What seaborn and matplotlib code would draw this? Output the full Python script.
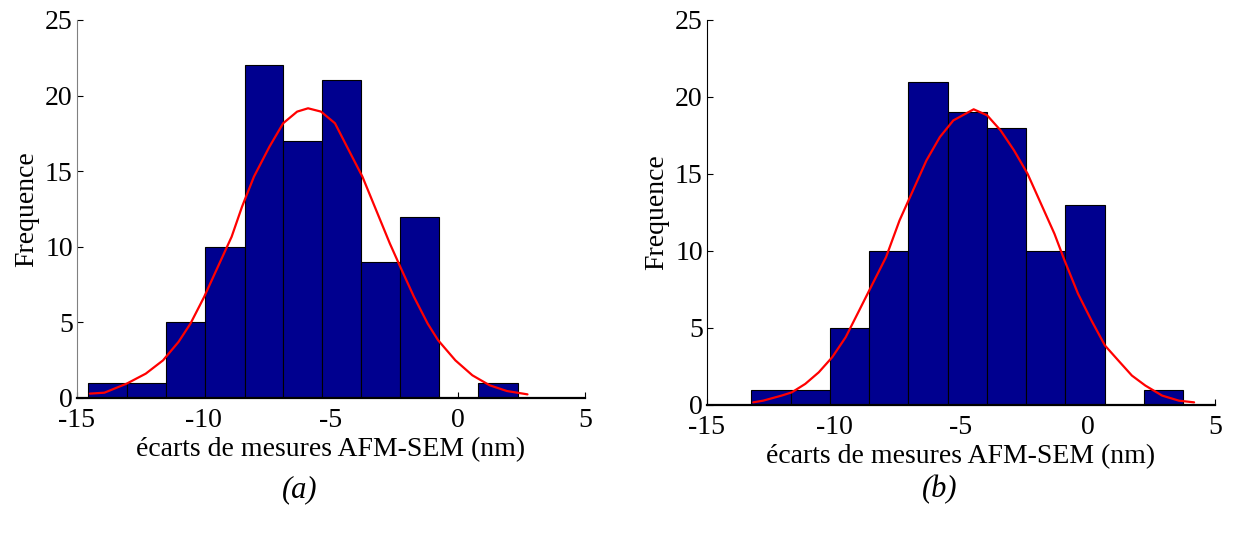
import numpy as np
import seaborn as sns
import matplotlib.pyplot as plt

# bin edges (nm) and counts
edges_a = [-14.57, -13.03, -11.48, -9.94, -8.40, -6.88, -5.35, -3.80, -2.27, -0.73, 0.81, 2.37]
counts_a = [1, 1, 5, 10, 22, 17, 21, 9, 12, 0, 1]

edges_b = [-13.28, -11.71, -10.17, -8.63, -7.08, -5.53, -3.98, -2.42, -0.89, 0.66, 2.19, 3.74]
counts_b = [1, 1, 5, 10, 21, 19, 18, 10, 13, 0, 1]

# red fitted curves
curve_a_x = [-14.49, -13.92, -13.04, -12.29, -11.61, -11.0, -10.53, -9.99, -9.45, -8.91,
             -8.50, -8.03, -7.42, -6.88, -6.33, -5.90, -5.39, -4.84, -4.30, -3.76,
             -3.22, -2.68, -2.27, -1.73, -1.19, -0.78, -0.10, 0.57, 1.25, 1.93, 2.74]
curve_a_y = [0.29, 0.35, 0.95, 1.61, 2.49, 3.71, 4.92, 6.69, 8.68, 10.66,
             12.65, 14.64, 16.62, 18.17, 18.94, 19.16, 18.94, 18.17, 16.40, 14.64,
             12.43, 10.22, 8.68, 6.69, 4.92, 3.82, 2.49, 1.50, 0.84, 0.46, 0.24]

curve_b_x = [-13.18, -12.79, -12.06, -11.66, -11.13, -10.60, -10.07, -9.54, -9.01, -8.48,
             -7.95, -7.42, -6.89, -6.36, -5.83, -5.30, -4.50, -3.97, -3.44, -2.91,
             -2.38, -1.85, -1.32, -0.92, -0.39, 0.14, 0.67, 1.20, 1.73, 2.26, 2.92, 3.58, 4.18]
curve_b_y = [0.17, 0.28, 0.61, 0.82, 1.37, 2.12, 3.10, 4.40, 6.13, 7.87,
             9.60, 11.98, 13.93, 15.88, 17.40, 18.48, 19.20, 18.81, 17.83, 16.53,
             15.02, 13.07, 11.12, 9.38, 7.22, 5.48, 3.86, 2.88, 1.91, 1.26, 0.61, 0.28, 0.17]

xticks = [-15, -10, -5, 0, 5]
yticks = [0, 5, 10, 15, 20, 25]
xlabel = "écarts de mesures AFM-SEM (nm)"
ylabel = "Frequence"
captions = ["(a)", "(b)"]

sns.set_style("ticks")
plt.rcParams['font.family'] = ['Liberation Serif', 'DejaVu Serif']
plt.rcParams['text.color'] = 'black'
plt.rcParams['axes.labelcolor'] = 'black'
plt.rcParams['xtick.color'] = 'black'
plt.rcParams['ytick.color'] = 'black'

fig = plt.figure(figsize=(12.41, 5.33), dpi=100)
ax_a = fig.add_axes([0.0620, 0.2533, 0.4093, 0.7092])
ax_b = fig.add_axes([0.5697, 0.2402, 0.4093, 0.7223])

panels = [
    (ax_a, edges_a, counts_a, curve_a_x, curve_a_y, '#808080'),
    (ax_b, edges_b, counts_b, curve_b_x, curve_b_y, 'black'),
]

for ax, edges, counts, cx, cy, left_col in panels:
    centers = (np.array(edges[:-1]) + np.array(edges[1:])) / 2
    sns.histplot(x=centers, weights=counts, bins=edges, ax=ax,
                 color='#00008F', edgecolor='black', linewidth=0.8, alpha=1)
    sns.lineplot(x=cx, y=cy, ax=ax, color='red', linewidth=1.6)
    ax.set_xlim(-15, 5)
    ax.set_ylim(0, 25)
    ax.set_xticks(xticks)
    ax.set_yticks(yticks)
    ax.set_xticklabels([str(t) for t in xticks])
    ax.set_yticklabels([str(t) for t in yticks])
    ax.tick_params(direction='in', length=4, width=0.8, labelsize=20,
                   colors='black')
    ax.tick_params(axis='x', pad=7)
    ax.tick_params(axis='y', pad=3)
    ax.spines['top'].set_visible(False)
    ax.spines['right'].set_visible(False)
    ax.spines['left'].set_color(left_col)
    ax.spines['bottom'].set_color('black')
    ax.spines['bottom'].set_linewidth(1.6)
    ax.set_xlabel(xlabel, fontsize=20, labelpad=3)
    ax.set_ylabel(ylabel, fontsize=20, labelpad=4)

fig.text(300 / 1241, 1 - 490 / 533, captions[0], ha='center', va='center',
         fontsize=22, style='italic')
fig.text(940 / 1241, 1 - 490 / 533, captions[1], ha='center', va='center',
         fontsize=22, style='italic')

fig.savefig('out.png', dpi=100)
